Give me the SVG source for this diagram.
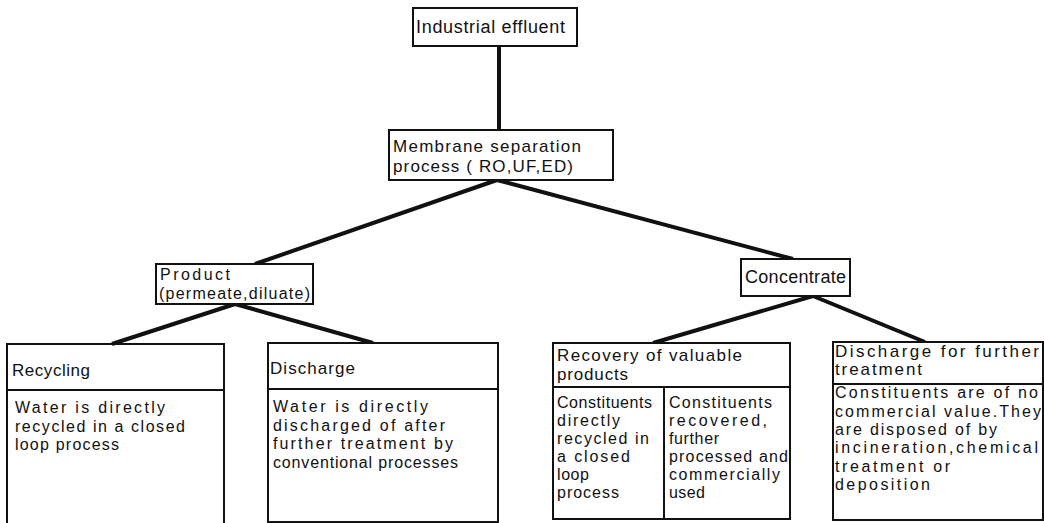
<svg xmlns="http://www.w3.org/2000/svg" width="1044" height="523" viewBox="0 0 1044 523">
<style>
.box{fill:#fff;stroke:#111;stroke-width:2}
.div{stroke:#111;stroke-width:2;fill:none}
.con{stroke:#111;stroke-width:4;fill:none;stroke-linecap:butt}
text{font-family:"Liberation Sans",Arial,sans-serif;fill:#111}
.h{font-size:17px}
.b{font-size:16px}
</style>
<rect width="1044" height="523" fill="#fff"/>
<g id="connectors">
<line class="con" x1="499" y1="46" x2="499" y2="130"/>
<line class="con" x1="497" y1="180" x2="255" y2="264"/>
<line class="con" x1="497" y1="180" x2="793" y2="259"/>
<line class="con" x1="235" y1="304" x2="112" y2="344"/>
<line class="con" x1="235" y1="304" x2="373" y2="343"/>
<line class="con" x1="813" y1="296" x2="653" y2="343"/>
<line class="con" x1="813" y1="296" x2="925" y2="342"/>
</g>
<g id="industrial-effluent">
<rect class="box" x="413" y="8" width="164" height="38"/>
<text class="h" x="416" y="33" textLength="149" lengthAdjust="spacing" style="font-size:18px">Industrial effluent</text>
</g>
<g id="membrane">
<rect class="box" x="389" y="130" width="224" height="50"/>
<text class="h" x="393" y="152" textLength="188" lengthAdjust="spacing">Membrane separation</text>
<text class="h" x="393" y="172" textLength="180" lengthAdjust="spacing">process ( RO,UF,ED)</text>
</g>
<g id="product">
<rect class="box" x="156" y="264" width="157" height="40"/>
<text class="b" x="160" y="280" textLength="70" lengthAdjust="spacing">Product</text>
<text class="b" x="159" y="299" textLength="151" lengthAdjust="spacing">(permeate,diluate)</text>
</g>
<g id="concentrate">
<rect class="box" x="741" y="259" width="109" height="37"/>
<text class="h" x="745" y="283" textLength="101" lengthAdjust="spacing" style="font-size:18px">Concentrate</text>
</g>
<g id="recycling">
<path class="div" d="M7,525 V344 H224 V525"/>
<line class="div" x1="7" y1="390" x2="224" y2="390"/>
<text class="h" x="12" y="376" textLength="78" lengthAdjust="spacing">Recycling</text>
<text class="b" x="15" y="413" textLength="150" lengthAdjust="spacing">Water is  directly</text>
<text class="b" x="15" y="432" textLength="170" lengthAdjust="spacing">recycled in a closed</text>
<text class="b" x="15" y="450" textLength="104" lengthAdjust="spacing">loop process</text>
</g>
<g id="discharge">
<rect class="box" x="268" y="343" width="230" height="179"/>
<line class="div" x1="268" y1="389" x2="498" y2="389"/>
<text class="h" x="270" y="374" textLength="85" lengthAdjust="spacing">Discharge</text>
<text class="b" x="273" y="412" textLength="155" lengthAdjust="spacing">Water is directly</text>
<text class="b" x="273" y="431" textLength="172" lengthAdjust="spacing">discharged of after</text>
<text class="b" x="273" y="449" textLength="180" lengthAdjust="spacing">further treatment by</text>
<text class="b" x="273" y="468" textLength="185" lengthAdjust="spacing">conventional processes</text>
</g>
<g id="recovery">
<rect class="box" x="553" y="343" width="237" height="176"/>
<line class="div" x1="553" y1="387" x2="790" y2="387"/>
<line class="div" x1="664" y1="387" x2="664" y2="519"/>
<text class="h" x="557" y="361" textLength="185" lengthAdjust="spacing">Recovery of  valuable</text>
<text class="h" x="557" y="380" textLength="71" lengthAdjust="spacing">products</text>
<text class="b" x="557" y="408" textLength="95" lengthAdjust="spacing">Constituents</text>
<text class="b" x="557" y="426" textLength="63" lengthAdjust="spacing">directly</text>
<text class="b" x="557" y="444" textLength="92" lengthAdjust="spacing">recycled in</text>
<text class="b" x="557" y="462" textLength="73" lengthAdjust="spacing">a closed</text>
<text class="b" x="557" y="480" textLength="32" lengthAdjust="spacing">loop</text>
<text class="b" x="557" y="498" textLength="62" lengthAdjust="spacing">process</text>
<text class="b" x="669" y="408" textLength="103" lengthAdjust="spacing">Constituents</text>
<text class="b" x="669" y="426" textLength="98" lengthAdjust="spacing">recovered,</text>
<text class="b" x="669" y="444" textLength="50" lengthAdjust="spacing">further</text>
<text class="b" x="669" y="462" textLength="119" lengthAdjust="spacing">processed and</text>
<text class="b" x="669" y="480" textLength="111" lengthAdjust="spacing">commercially</text>
<text class="b" x="669" y="498" textLength="36" lengthAdjust="spacing">used</text>
</g>
<g id="discharge-further">
<rect class="box" x="833" y="342" width="210" height="178"/>
<line class="div" x1="833" y1="384" x2="1043" y2="384"/>
<text class="h" x="835" y="357" textLength="204" lengthAdjust="spacing">Discharge  for  further</text>
<text class="h" x="835" y="375" textLength="87" lengthAdjust="spacing">treatment</text>
<text class="b" x="835" y="398" textLength="203" lengthAdjust="spacing">Constituents are of no</text>
<text class="b" x="835" y="417" textLength="206" lengthAdjust="spacing">commercial value.They</text>
<text class="b" x="835" y="435" textLength="162" lengthAdjust="spacing">are disposed of by</text>
<text class="b" x="835" y="453" textLength="203" lengthAdjust="spacing">incineration,chemical</text>
<text class="b" x="835" y="472" textLength="115" lengthAdjust="spacing">treatment or</text>
<text class="b" x="835" y="490" textLength="95" lengthAdjust="spacing">deposition</text>
</g>
</svg>
